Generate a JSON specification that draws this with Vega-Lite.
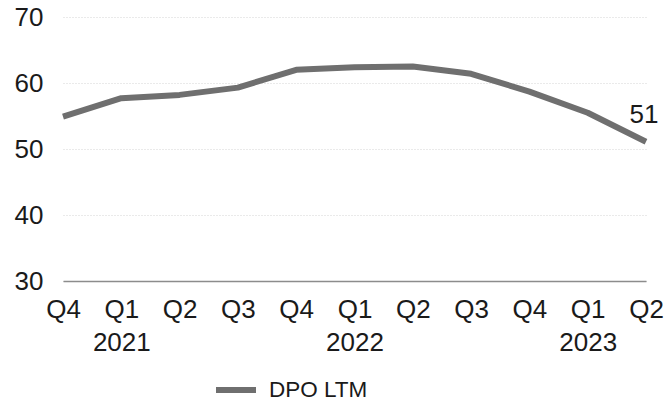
{
  "$schema": "https://vega.github.io/schema/vega-lite/v6.json",
  "width": 583,
  "height": 264,
  "autosize": {"type": "none"},
  "padding": {"left": 63, "top": 17, "right": 23, "bottom": 125},
  "background": "white",
  "config": {
    "font": "Liberation Sans",
    "view": {"stroke": null}
  },
  "data": {
    "values": [
      {"period": "Q4 2020", "series": "DPO LTM", "value": 54.9},
      {"period": "Q1 2021", "series": "DPO LTM", "value": 57.7},
      {"period": "Q2 2021", "series": "DPO LTM", "value": 58.2},
      {"period": "Q3 2021", "series": "DPO LTM", "value": 59.3},
      {"period": "Q4 2021", "series": "DPO LTM", "value": 62.0},
      {"period": "Q1 2022", "series": "DPO LTM", "value": 62.4},
      {"period": "Q2 2022", "series": "DPO LTM", "value": 62.5},
      {"period": "Q3 2022", "series": "DPO LTM", "value": 61.4},
      {"period": "Q4 2022", "series": "DPO LTM", "value": 58.7},
      {"period": "Q1 2023", "series": "DPO LTM", "value": 55.5},
      {"period": "Q2 2023", "series": "DPO LTM", "value": 51.1}
    ]
  },
  "encoding": {
    "x": {
      "field": "period",
      "type": "ordinal",
      "sort": null,
      "scale": {"type": "point", "padding": 0},
      "axis": {
        "title": null,
        "labelAngle": 0,
        "labelFontSize": 26,
        "labelColor": "#1a1a1a",
        "labelPadding": 15,
        "labelLineHeight": 33,
        "labelBaseline": "top",
        "labelExpr": "split(datum.value, ' ')[0] == 'Q1' ? [split(datum.value, ' ')[0], split(datum.value, ' ')[1]] : split(datum.value, ' ')[0]",
        "ticks": false,
        "domain": true,
        "domainColor": "#8c8c8c",
        "domainWidth": 1.5,
        "grid": false
      }
    },
    "y": {
      "field": "value",
      "type": "quantitative",
      "scale": {"domain": [30, 70], "nice": false, "zero": false},
      "axis": {
        "title": null,
        "values": [30, 40, 50, 60, 70],
        "labelFontSize": 26,
        "labelColor": "#1a1a1a",
        "labelPadding": 20,
        "ticks": false,
        "domain": false,
        "grid": true,
        "gridColor": "#d4d4d4",
        "gridDash": [1, 2],
        "gridWidth": 1
      }
    }
  },
  "layer": [
    {
      "mark": {"type": "line", "strokeWidth": 6, "strokeCap": "butt", "strokeJoin": "round"},
      "encoding": {
        "color": {
          "field": "series",
          "type": "nominal",
          "scale": {"range": ["#6f6f6f"]},
          "legend": {
            "title": null,
            "orient": "none",
            "legendX": 150,
            "legendY": 350,
            "symbolType": "stroke",
            "symbolStrokeWidth": 6,
            "symbolSize": 1600,
            "labelFontSize": 22.5,
            "labelColor": "#1a1a1a",
            "labelOffset": 10
          }
        }
      }
    },
    {
      "transform": [{"filter": "datum.period == 'Q2 2023'"}],
      "mark": {"type": "text", "fontSize": 26, "color": "#1a1a1a", "align": "center", "baseline": "bottom", "dx": -2, "dy": -14},
      "encoding": {
        "text": {"field": "value", "type": "quantitative", "format": ".0f"}
      }
    }
  ]
}
